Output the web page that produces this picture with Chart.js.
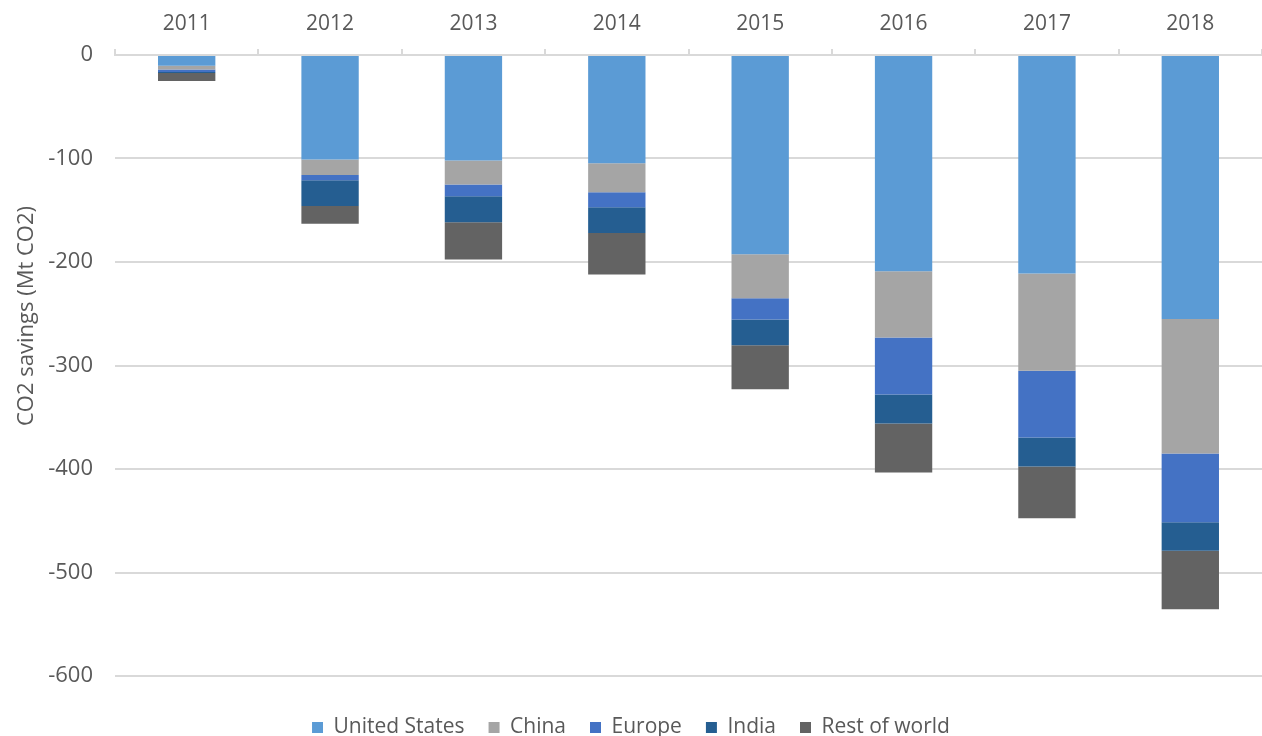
<!DOCTYPE html>
<html>
<head>
<meta charset="utf-8">
<script src="https://cdn.jsdelivr.net/npm/chart.js@4/dist/chart.umd.min.js"></script>
<style>
  html, body { margin: 0; padding: 0; background: #fff; }
  #wrap { width: 1262px; height: 736px; }
</style>
</head>
<body>
<div id="wrap"><canvas id="chart" width="1262" height="736"></canvas></div>
<script>
const years = ['2011', '2012', '2013', '2014', '2015', '2016', '2017', '2018'];

const unitedStates = [-10.5, -101, -102, -104.5, -192.5, -209, -211, -255];
const china = [-3.5, -15, -23, -28, -42.5, -64, -94, -130];
const europe = [-2.5, -5, -11.5, -14.5, -20.5, -55, -64.5, -66.5];
const india = [-1, -25, -25, -25, -25, -28, -28, -27.5];
const restOfWorld = [-7.5, -17, -36, -40, -42.5, -47.5, -50, -56.5];

const yTitle = 'CO2 savings (Mt CO2)';

Chart.defaults.font.family = "'Open Sans', 'Noto Sans', sans-serif";
Chart.defaults.font.size = 21;
Chart.defaults.color = '#595959';

const series = [
  { label: 'United States', data: unitedStates, color: '#5B9BD5' },
  { label: 'China', data: china, color: '#A5A5A5' },
  { label: 'Europe', data: europe, color: '#4472C4' },
  { label: 'India', data: india, color: '#255E91' },
  { label: 'Rest of world', data: restOfWorld, color: '#636363' }
];

// axis title sits a bit above the middle of the plot, like the Excel original
const yTitlePlugin = {
  id: 'yTitle',
  afterDraw: chart => {
    const ctx = chart.ctx;
    ctx.save();
    ctx.translate(27, 316);
    ctx.rotate(-Math.PI / 2);
    ctx.font = "22px 'Open Sans', 'Noto Sans', sans-serif";
    ctx.fillStyle = '#595959';
    ctx.textAlign = 'center';
    ctx.textBaseline = 'middle';
    ctx.fillText(yTitle, 0, 0);
    ctx.restore();
  }
};

const chart = new Chart(document.getElementById('chart'), {
  type: 'bar',
  plugins: [yTitlePlugin],
  data: {
    labels: years,
    datasets: series.map(s => ({
      label: s.label,
      data: s.data,
      backgroundColor: s.color,
      borderWidth: 0,
      categoryPercentage: 1,
      barPercentage: 0.4
    }))
  },
  options: {
    responsive: false,
    animation: false,
    layout: { padding: { left: 0, right: 0, top: 0, bottom: -12 } },
    plugins: {
      tooltip: { enabled: false },
      legend: {
        position: 'bottom',
        labels: {
          boxWidth: 11,
          boxHeight: 11,
          padding: 24,
          font: { size: 21 },
          color: '#595959'
        }
      }
    },
    scales: {
      x: {
        position: 'top',
        stacked: true,
        afterFit: scale => { scale.height = 55; },
        border: { color: '#d9d9d9', width: 2 },
        grid: {
          offset: true,
          drawOnChartArea: false,
          drawTicks: true,
          tickLength: 6,
          color: '#d9d9d9',
          lineWidth: 2
        },
        ticks: { padding: 12, font: { size: 21 }, color: '#595959' }
      },
      // empty spacer between the plot and the legend
      gap: {
        type: 'category',
        position: 'bottom',
        afterFit: scale => { scale.height = 17; },
        border: { display: false },
        grid: { display: false },
        ticks: { display: false }
      },
      y: {
        stacked: true,
        min: -600,
        max: 0,
        afterFit: scale => { scale.width = 115; },
        border: { display: false },
        grid: { color: '#d9d9d9', lineWidth: 2, drawTicks: false },
        ticks: { stepSize: 100, padding: 22, font: { size: 22 }, color: '#595959' }
      }
    }
  }
});
</script>
</body>
</html>
